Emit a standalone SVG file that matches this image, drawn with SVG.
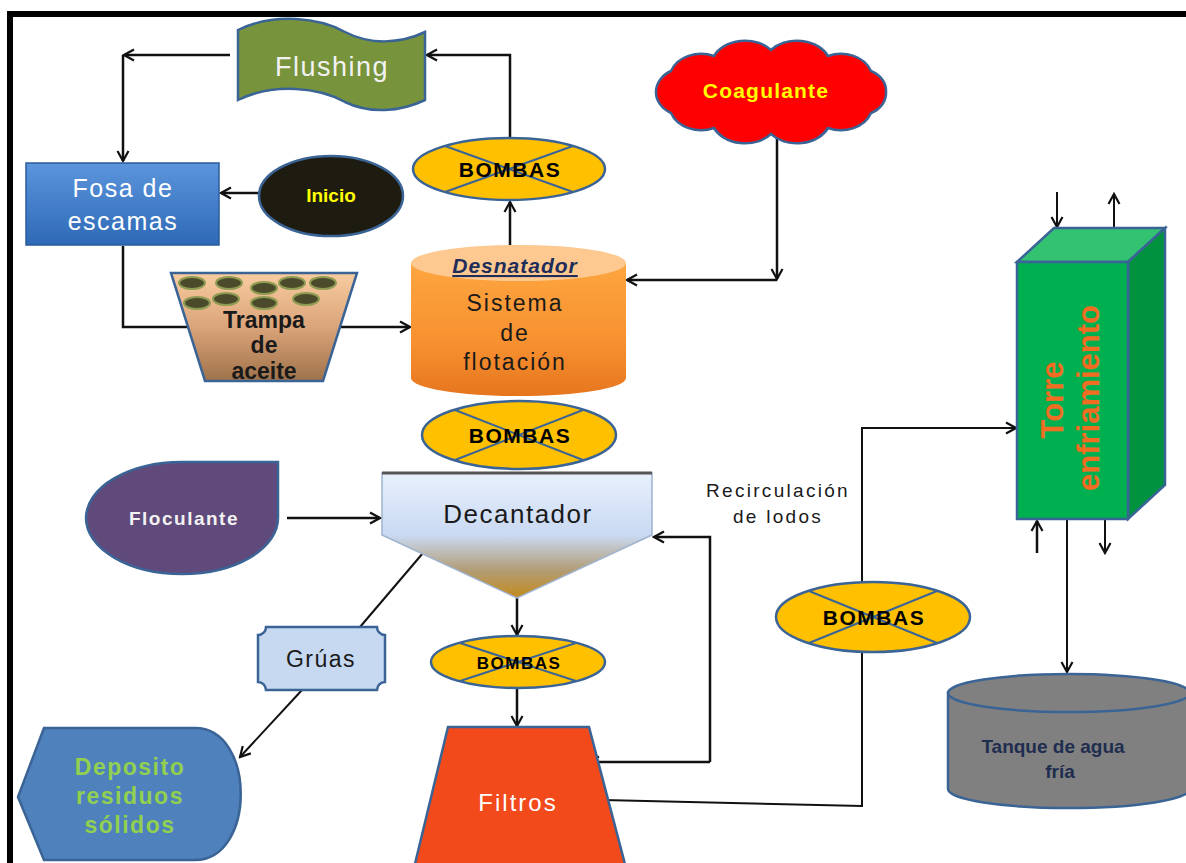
<svg xmlns="http://www.w3.org/2000/svg" width="1186" height="863" viewBox="0 0 1186 863">
<style>
.t{font-family:"Liberation Sans",Arial,sans-serif;text-anchor:middle}
.b{font-weight:bold}
.sh{stroke:#3b6496;stroke-width:2.5}
.cx{stroke:#3b6496;stroke-width:2;fill:none}
.bomb{fill:#ffc000;stroke:#3b6496;stroke-width:2.5}
.bt{font-family:"Liberation Sans",Arial,sans-serif;text-anchor:middle;font-weight:bold;font-size:21px;letter-spacing:1.5px;fill:#000}
.c{fill:none;stroke:#111;stroke-width:2.5}
.a{marker-end:url(#ar)}
</style>
<defs>
<marker id="ar" markerUnits="userSpaceOnUse" markerWidth="14" markerHeight="14" viewBox="0 0 14 14" refX="12" refY="7" orient="auto">
<path d="M2,1.5 L12,7 L2,12.5" fill="none" stroke="#111" stroke-width="2.2"/>
</marker>
<linearGradient id="gFosa" x1="0" y1="0" x2="0" y2="1"><stop offset="0" stop-color="#5b95dc"/><stop offset="1" stop-color="#2e69b6"/></linearGradient>
<linearGradient id="gTrampa" x1="0" y1="0" x2="0" y2="1"><stop offset="0" stop-color="#f8cca0"/><stop offset="0.5" stop-color="#dba47a"/><stop offset="1" stop-color="#9f724a"/></linearGradient>
<linearGradient id="gDes" x1="0" y1="0" x2="0" y2="1"><stop offset="0" stop-color="#fda640"/><stop offset="0.6" stop-color="#f79030"/><stop offset="1" stop-color="#e6761e"/></linearGradient>
<linearGradient id="gDec" x1="0" y1="0" x2="0" y2="1"><stop offset="0" stop-color="#e8f0fc"/><stop offset="0.5" stop-color="#c9d9f2"/><stop offset="0.78" stop-color="#b29c74"/><stop offset="1" stop-color="#c48a1c"/></linearGradient>
</defs>
<rect width="1186" height="863" fill="#fff"/>
<rect x="7" y="11" width="1179" height="6" fill="#000"/>
<rect x="7" y="11" width="6" height="852" fill="#000"/>

<g id="connectors">
<path class="c a" d="M510,137 V55 H427"/>
<path class="c a" d="M230,55 H124"/>
<path class="c a" d="M123,55 V161"/>
<path class="c a" d="M258,193 H221"/>
<path class="c" d="M123,246 V327 H188"/>
<path class="c a" d="M340,327 H410"/>
<path class="c a" d="M510,247 V202"/>
<path class="c a" d="M777,137 V279"/>
<path class="c a" d="M777,280 H627"/>
<path class="c a" d="M287,518 H380"/>
<path class="c a" d="M517,598 V635"/>
<path class="c a" d="M517,689 V726"/>
<path class="c" d="M423,553 L360,627" style="stroke-width:2"/>
<path class="c a" d="M302,690 L240,757" style="stroke-width:2"/>
<path class="c a" d="M710,762 H589"/>
<path class="c a" d="M710,762 V537 H654"/>
<path class="c" d="M603,800 L862,806 V653" style="stroke-width:2"/>
<path class="c a" d="M862,583 V428 H1016" style="stroke-width:2"/>
<path class="c a" d="M1057,192 V227" style="stroke-width:2"/>
<path class="c a" d="M1114,228 V194" style="stroke-width:2"/>
<path class="c a" d="M1037,553 V521"/>
<path class="c a" d="M1105,520 V553" style="stroke-width:2"/>
<path class="c a" d="M1067,520 V672" style="stroke-width:2"/>
</g>

<g id="flushing">
<path class="sh" fill="#77933c" d="M238,30 C275,12 320,18 345,32 C370,45 400,44 425,32 L425,100 C400,112 370,114 345,102 C320,88 275,82 238,100 Z"/>
<text class="t" x="332" y="76" font-size="27" letter-spacing="1.5" fill="#f2f2f2">Flushing</text>
</g>

<g id="fosa">
<rect x="26" y="163" width="193" height="82" style="fill:url(#gFosa)" stroke="#2a5b9c" stroke-width="1.5"/>
<text class="t" x="123" y="197" font-size="25" letter-spacing="1.5" fill="#fff">Fosa de</text>
<text class="t" x="123" y="230" font-size="25" letter-spacing="1.5" fill="#fff">escamas</text>
</g>

<g id="inicio">
<ellipse class="sh" cx="331" cy="196" rx="72" ry="40" fill="#1e1b10"/>
<text class="t b" x="331" y="202" font-size="19" fill="#ffff00">Inicio</text>
</g>

<g id="bombas1">
<ellipse class="bomb" cx="509" cy="169" rx="96" ry="31"/>
<path class="cx" d="M445,146 L573,192 M445,192 L573,146"/>
<text class="bt" x="510" y="177">BOMBAS</text>
</g>

<g id="trampa">
<polygon class="sh" fill="url(#gTrampa)" points="171,273 357,273 323,381 205,381"/>
<g fill="#4b4a2a" stroke="#8e9b52" stroke-width="2">
<ellipse cx="192" cy="283" rx="13" ry="6"/>
<ellipse cx="229" cy="283" rx="13" ry="6"/>
<ellipse cx="264" cy="288" rx="13" ry="6"/>
<ellipse cx="292" cy="283" rx="13" ry="6"/>
<ellipse cx="323" cy="283" rx="13" ry="6"/>
<ellipse cx="197" cy="303" rx="13" ry="6"/>
<ellipse cx="226" cy="299" rx="13" ry="6"/>
<ellipse cx="264" cy="303" rx="13" ry="6"/>
<ellipse cx="306" cy="299" rx="13" ry="6"/>
</g>
<text class="t b" x="264" y="328" font-size="23" fill="#1a1a1a">Trampa</text>
<text class="t b" x="264" y="353" font-size="23" fill="#1a1a1a">de</text>
<text class="t b" x="264" y="379" font-size="23" fill="#1a1a1a">aceite</text>
</g>

<g id="desnatador">
<path d="M411,263 L411,378 A107.5,18 0 0 0 626,378 L626,263 Z" fill="url(#gDes)"/>
<ellipse cx="518.5" cy="263" rx="107.5" ry="18" fill="#fdc991"/>
<text class="t b" x="515" y="273" font-size="21" font-style="italic" letter-spacing="1" fill="#1f2d5a" text-decoration="underline">Desnatador</text>
<text class="t" x="515" y="311" font-size="23" letter-spacing="2" fill="#1a1a1a">Sistema</text>
<text class="t" x="515" y="341" font-size="23" letter-spacing="2" fill="#1a1a1a">de</text>
<text class="t" x="515" y="370" font-size="23" letter-spacing="2" fill="#1a1a1a">flotación</text>
</g>

<g id="coagulante">
<path class="sh" fill="#ff0000" d="M656,92 A30,24 0 0 1 671,71 A32,26 0 0 1 714,56 A34,26 0 0 1 771,50 A34,26 0 0 1 828,56 A32,26 0 0 1 871,71 A26,22 0 0 1 886,92 A26,22 0 0 1 871,113 A32,26 0 0 1 828,128 A34,26 0 0 1 771,134 A34,26 0 0 1 714,128 A32,26 0 0 1 671,113 A30,24 0 0 1 656,92 Z"/>
<text class="t b" x="766" y="98" font-size="21" letter-spacing="1.2" fill="#ffff00">Coagulante</text>
</g>

<g id="bombas2">
<ellipse class="bomb" cx="519" cy="435" rx="97" ry="34"/>
<path class="cx" d="M455,410 L583,460 M455,460 L583,410"/>
<text class="bt" x="520" y="443">BOMBAS</text>
</g>

<g id="floculante">
<path class="sh" fill="#604a7b" d="M182,462 H278 V518 A96,56 0 1 1 182,462 Z"/>
<text class="t b" x="184" y="525" font-size="19" letter-spacing="1.5" fill="#f2f2f2">Floculante</text>
</g>

<g id="decantador">
<polygon points="382,473 652,473 652,535 517,598 382,535" fill="url(#gDec)" stroke="#9fb3d0" stroke-width="1.5"/>
<path d="M382,473 H652" stroke="#555" stroke-width="3"/>
<text class="t" x="518" y="523" font-size="26" letter-spacing="1.5" fill="#1a1a1a">Decantador</text>
</g>

<g id="gruas">
<path class="sh" fill="#c6d9f1" d="M266,627 H377 A8,8 0 0 0 385,635 V682 A8,8 0 0 0 377,690 H266 A8,8 0 0 0 258,682 V635 A8,8 0 0 0 266,627 Z"/>
<text class="t" x="321" y="667" font-size="23" letter-spacing="1.5" fill="#1a1a1a">Grúas</text>
</g>

<g id="bombas3">
<ellipse class="bomb" cx="518" cy="662" rx="87" ry="26"/>
<path class="cx" d="M460,643 L576,681 M460,681 L576,643"/>
<text class="bt" x="519" y="669" style="font-size:17px">BOMBAS</text>
</g>

<g id="deposito">
<path class="sh" fill="#4f81bd" d="M18,797 L44,728 H195 C256,728 256,860 195,860 H44 Z"/>
<text class="t b" x="130" y="775" font-size="23" letter-spacing="1.5" fill="#92d050">Deposito</text>
<text class="t b" x="130" y="804" font-size="23" letter-spacing="1.5" fill="#92d050">residuos</text>
<text class="t b" x="130" y="833" font-size="23" letter-spacing="1.5" fill="#92d050">sólidos</text>
</g>

<g id="filtros">
<polygon class="sh" fill="#f34a1c" points="448,727 589,727 626,868 414,868"/>
<text class="t" x="518" y="811" font-size="24" letter-spacing="2" fill="#fff">Filtros</text>
</g>

<g id="recirculacion">
<text class="t" x="778" y="497" font-size="19" letter-spacing="2.3" fill="#1a1a1a">Recirculación</text>
<text class="t" x="778" y="523" font-size="19" letter-spacing="2.3" fill="#1a1a1a">de lodos</text>
</g>

<g id="bombas4">
<ellipse class="bomb" cx="873" cy="617" rx="97" ry="35"/>
<path class="cx" d="M809,591 L937,643 M809,643 L937,591"/>
<text class="bt" x="874" y="625">BOMBAS</text>
</g>

<g id="torre">
<polygon class="sh" fill="#33c172" points="1017,262 1054,228 1165,228 1128,262"/>
<polygon class="sh" fill="#00923f" points="1128,262 1165,228 1165,485 1128,519"/>
<rect class="sh" x="1017" y="262" width="111" height="257" fill="#00b050"/>
<text class="t b" transform="translate(1063,400) rotate(-90)" font-size="31" fill="#f26d21">Torre</text>
<text class="t b" transform="translate(1099,398) rotate(-90)" font-size="31" fill="#f26d21">enfriamiento</text>
</g>

<g id="tanque">
<path class="sh" fill="#808080" d="M948,693 L948,789 A121,19 0 0 0 1190,789 L1190,693 Z"/>
<ellipse class="sh" cx="1069" cy="693" rx="121" ry="19" fill="#808080"/>
<text class="t b" x="1053" y="753" font-size="19" fill="#1f2d4f">Tanque de agua</text>
<text class="t b" x="1060" y="778" font-size="19" fill="#1f2d4f">fría</text>
</g>
</svg>
